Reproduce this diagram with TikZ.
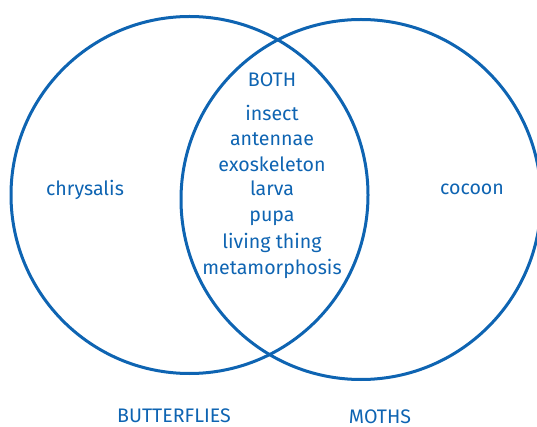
\documentclass[tikz,border=0pt]{standalone}
\usepackage{fontspec}
\setmainfont{Fira Sans}
\definecolor{vblue}{RGB}{14,100,178}
\begin{document}
\begin{tikzpicture}[x=1pt,y=-1pt,
  ring/.style={draw=vblue,line width=3pt},
  lbl/.style={text=vblue,font=\fontsize{19.6}{22}\selectfont,inner sep=0pt,anchor=base}]
\useasboundingbox (0,0) rectangle (537,427);
\node[ring,circle,minimum size=357pt,inner sep=0pt] (butterflies) at (189.5,195) {};
\node[ring,circle,minimum size=360pt,inner sep=0pt] (moths) at (361,199.5) {};
\node[lbl] (both) at (272,87) {BOTH};
\node[lbl] (w1) at (272,121) {insect};
\node[lbl] (w2) at (272,146) {antennae};
\node[lbl] (w3) at (272,172) {exoskeleton};
\node[lbl] (w4) at (272,196) {larva};
\node[lbl] (w5) at (272,222) {pupa};
\node[lbl] (w6) at (272,248) {living thing};
\node[lbl] (w7) at (272,274) {metamorphosis};
\node[lbl] (chr) at (85,196) {chrysalis};
\node[lbl] (coc) at (472,195) {cocoon};
\node[lbl,text depth=0pt] (bl) at (174,422) {BUTTERFLIES};
\node[lbl,text depth=0pt] (ml) at (380,423) {MOTHS};
\end{tikzpicture}
\end{document}
